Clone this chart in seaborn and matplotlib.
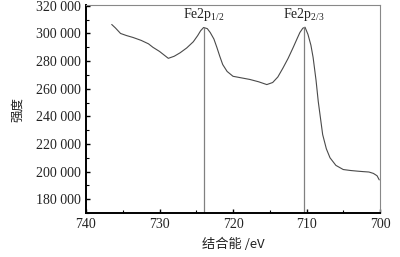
import numpy as np
import pandas as pd
import matplotlib
matplotlib.use('Agg')
import matplotlib.pyplot as plt
from matplotlib.ticker import FuncFormatter, MultipleLocator
import seaborn as sns

# XPS Fe2p spectrum
binding_energy = [736.5, 736.0, 735.3, 734.5, 733.6, 732.5, 731.5, 730.9, 730.0, 729.4,
                  728.8, 728.0, 727.2, 726.3, 725.4, 724.8, 724.4, 724.0, 723.5, 723.1,
                  722.6, 722.2, 721.8, 721.4, 720.8, 720.0, 719.0, 717.7, 716.5, 715.4,
                  714.6, 713.9, 713.2, 712.5, 711.8, 711.3, 710.9, 710.5, 710.2, 709.8,
                  709.4, 709.1, 708.7, 708.4, 707.8, 707.3, 706.8, 706.0, 705.0, 704.0,
                  703.0, 702.3, 701.5, 700.9, 700.4, 700.1]
intensity = [306500, 304000, 300000, 298500, 297100, 295000, 292500, 290000, 287000, 284500,
             282000, 283500, 286000, 289500, 294000, 298500, 302000, 304300, 303500, 300700,
             296000, 290000, 283500, 277500, 272500, 269000, 268000, 266700, 265000, 263000,
             264500, 268500, 275000, 282000, 290000, 296000, 300700, 303800, 304500, 299300,
             291500, 282600, 266000, 250700, 226800, 216500, 210000, 204500, 201500, 200800,
             200300, 200000, 199700, 198700, 197000, 194000]

peak_pos = [724.0, 710.3]
peak_val = [304300, 304500]
peak_labels = [r'Fe2p$_{1/2}$', r'Fe2p$_{2/3}$']

df = pd.DataFrame({'be': binding_energy, 'I': intensity})

sns.set_style('ticks')
plt.rcParams['font.family'] = ['Liberation Serif', 'Noto Sans CJK SC']
plt.rcParams['mathtext.fontset'] = 'custom'
plt.rcParams['mathtext.rm'] = 'Liberation Serif'
plt.rcParams['mathtext.it'] = 'Liberation Serif'

fig = plt.figure(figsize=(4.0, 2.57), dpi=100)
ax = fig.add_axes([0.215, 0.171, 0.735, 0.809])

sns.lineplot(data=df, x='be', y='I', ax=ax, color='#4a4a4a', lw=0.8, sort=False)

for p, v, lab in zip(peak_pos, peak_val, peak_labels):
    ax.plot([p, p], [170000, v], color='#808080', lw=0.9)
    ax.text(p, 307500, lab, ha='center', va='bottom', fontsize=10, color='#222222')

ax.set_xlim(740, 700)
ax.set_ylim(170000, 320500)
ax.xaxis.set_major_locator(MultipleLocator(10))
ax.xaxis.set_minor_locator(MultipleLocator(5))
ax.yaxis.set_major_locator(MultipleLocator(20000))
ax.yaxis.set_minor_locator(MultipleLocator(10000))
ax.yaxis.set_major_formatter(FuncFormatter(lambda y, pos: f'{y:,.0f}'.replace(',', ' ')))
ax.tick_params(which='both', direction='in', top=False, right=False, labelsize=10,
               colors='black', labelcolor='#222222')
ax.tick_params(which='major', length=3, width=1)
ax.tick_params(which='minor', length=2, width=0.8)

for s in ['left', 'bottom']:
    ax.spines[s].set_linewidth(1.4)
    ax.spines[s].set_color('black')
for s in ['top', 'right']:
    ax.spines[s].set_linewidth(0.8)
    ax.spines[s].set_color('#888888')

ax.set_xlabel('结合能 /eV', fontsize=9.5, color='#222222', labelpad=5,
              family=['Noto Sans CJK SC', 'Liberation Serif'])
ax.set_ylabel('强度', fontsize=9, color='#222222', labelpad=9, family=['Noto Sans CJK SC'])

fig.savefig('out.png', dpi=100)
